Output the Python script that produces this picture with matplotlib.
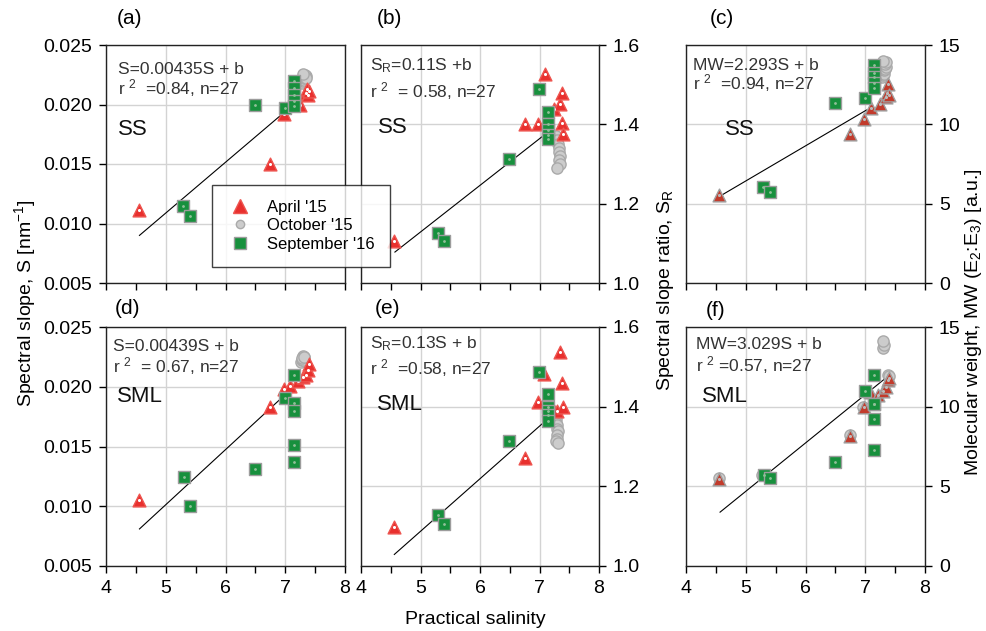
import numpy as np
import matplotlib
matplotlib.use('Agg')
import matplotlib.pyplot as plt
from matplotlib.ticker import MultipleLocator, FormatStrFormatter
from matplotlib.lines import Line2D

plt.rcParams['font.family'] = ['Liberation Sans', 'DejaVu Sans']
plt.rcParams['mathtext.fontset'] = 'custom'
plt.rcParams['mathtext.rm'] = 'Liberation Sans'
plt.rcParams['mathtext.it'] = 'Liberation Sans:italic'
plt.rcParams['mathtext.default'] = 'regular'

# salinity (SS row)
sal_apr_ss = [4.56, 6.75, 6.98, 7.10, 7.24, 7.35, 7.37, 7.38, 7.40]
sal_oct_ss = [7.28, 7.30, 7.31, 7.32, 7.33, 7.34, 7.33, 7.35, 7.30]
sal_sep_ss = [5.29, 5.40, 6.49, 6.99, 7.15, 7.15, 7.15, 7.15, 7.15]
# salinity (SML row)
sal_apr_sml = [4.56, 6.75, 6.98, 7.08, 7.21, 7.30, 7.35, 7.38, 7.39]
sal_oct_sml = [7.27, 7.28, 7.29, 7.30, 7.31, 7.29, 7.30, 7.28, 7.31]
sal_oct_f = [4.56, 5.27, 6.74, 6.97, 7.38, 7.40, 7.29, 7.31, 7.30]
sal_sep_sml = [5.30, 5.40, 6.49, 6.99, 7.15, 7.15, 7.15, 7.15, 7.15]

# (a) spectral slope S, SS
s_apr_a = [0.0111, 0.0150, 0.0192, 0.0202, 0.0200, 0.0210, 0.0213, 0.0208, 0.0211]
s_oct_a = [0.0218, 0.0220, 0.0221, 0.0222, 0.0223, 0.0224, 0.0225, 0.0222, 0.0226]
s_sep_a = [0.0115, 0.0106, 0.0200, 0.0197, 0.0220, 0.0214, 0.0208, 0.0203, 0.0199]
fit_x_a, fit_y_a = [4.56, 7.02], [0.0090, 0.0195]
# (b) slope ratio SR, SS
sr_apr_b = [1.106, 1.400, 1.400, 1.527, 1.438, 1.452, 1.480, 1.403, 1.376]
sr_oct_b = [1.37, 1.36, 1.35, 1.34, 1.33, 1.32, 1.31, 1.30, 1.29]
sr_sep_b = [1.127, 1.105, 1.312, 1.489, 1.431, 1.400, 1.385, 1.374, 1.363]
fit_x_b, fit_y_b = [4.57, 7.07], [1.078, 1.372]
# (c) molecular weight MW, SS
mw_apr_c = [5.54, 9.42, 10.31, 11.04, 11.29, 11.71, 11.98, 12.54, 11.85]
mw_oct_c = [13.0, 13.1, 13.2, 13.4, 13.5, 13.6, 13.8, 13.9, 14.0]
mw_sep_c = [6.03, 5.75, 11.33, 11.63, 13.75, 13.25, 13.0, 12.6, 12.3]
fit_x_c, fit_y_c = [4.58, 7.02], [5.5, 10.9]
# (d) spectral slope S, SML
s_apr_d = [0.0105, 0.0183, 0.0198, 0.0201, 0.0205, 0.0208, 0.0210, 0.0214, 0.0219]
s_oct_d = [0.0221, 0.0222, 0.0223, 0.0224, 0.0225, 0.0226, 0.0222, 0.0224, 0.0225]
s_sep_d = [0.01245, 0.0100, 0.0131, 0.0191, 0.0210, 0.0186, 0.0180, 0.0151, 0.0137]
fit_x_d, fit_y_d = [4.56, 7.25], [0.0081, 0.0205]
# (e) slope ratio SR, SML
sr_apr_e = [1.097, 1.270, 1.411, 1.481, 1.400, 1.390, 1.538, 1.460, 1.400]
sr_oct_e = [1.37, 1.36, 1.355, 1.345, 1.34, 1.33, 1.32, 1.315, 1.31]
sr_sep_e = [1.128, 1.105, 1.315, 1.487, 1.432, 1.400, 1.390, 1.380, 1.365]
fit_x_e, fit_y_e = [4.56, 7.06], [1.029, 1.359]
# (f) molecular weight MW, SML
mw_apr_f = [5.48, 8.19, 9.98, 10.92, 10.71, 11.0, 11.24, 11.66, 11.83]
mw_oct_f = [5.55, 5.72, 8.25, 10.0, 12.0, 11.9, 13.7, 13.9, 14.1]
mw_sep_f = [5.69, 5.53, 6.54, 10.97, 11.97, 10.15, 9.24, 7.31, 10.15]
fit_x_f, fit_y_f = [4.57, 7.38], [3.38, 11.91]

W, H = 986, 631
fig = plt.figure(figsize=(W / 100, H / 100), dpi=100)


def box(x0, y0, x1, y1):
    return [x0 / W, 1 - y1 / H, (x1 - x0) / W, (y1 - y0) / H]


def panel(rect, sa, ya, so, yo, ss, ys, fx, fy, dark):
    ax = fig.add_axes(rect)
    ax.grid(True, color='#d3d3d3', lw=1, zorder=0)
    ax.set_axisbelow(True)
    ax.plot(fx, fy, color='black', lw=0.8, zorder=2)
    ax.scatter(so, yo, marker='o', s=65, facecolor='#cccccc', edgecolor='#aaaaaa', lw=1, zorder=3)
    if dark:
        ax.scatter(sa, ya, marker='^', s=85, facecolor='#c23b2c', edgecolor='#a0a0a0', lw=1, zorder=4)
        ax.scatter(sa, ya, marker='.', s=6, color='#bbbbbb', zorder=5)
    else:
        ax.scatter(sa, ya, marker='^', s=85, facecolor='#e8302e', edgecolor='#ee5550', lw=1, zorder=4)
        ax.scatter(sa, ya, marker='.', s=6, color='white', zorder=5)
    ax.scatter(ss, ys, marker='s', s=75, facecolor='#17903d', edgecolor='#9c9c9c', lw=1, zorder=6)
    ax.scatter(ss, ys, marker='.', s=4, color='#8fbf98', zorder=7)
    ax.set_xlim(4, 8)
    ax.xaxis.set_major_locator(MultipleLocator(1))
    ax.xaxis.set_minor_locator(MultipleLocator(0.5))
    ax.tick_params(which='both', direction='out', length=5, width=1, labelsize=14, pad=5)
    for sp in ax.spines.values():
        sp.set_color('#222222')
        sp.set_linewidth(1)
    return ax


top, bot = (45, 283), (327, 566)
cols = [(106, 345), (361, 599), (686, 925)]

ax_a = panel(box(cols[0][0], top[0], cols[0][1], top[1]), sal_apr_ss, s_apr_a, sal_oct_ss, s_oct_a,
             sal_sep_ss, s_sep_a, fit_x_a, fit_y_a, False)
ax_b = panel(box(cols[1][0], top[0], cols[1][1], top[1]), sal_apr_ss, sr_apr_b, sal_oct_ss, sr_oct_b,
             sal_sep_ss, sr_sep_b, fit_x_b, fit_y_b, False)
ax_c = panel(box(cols[2][0], top[0], cols[2][1], top[1]), sal_apr_ss, mw_apr_c, sal_oct_ss, mw_oct_c,
             sal_sep_ss, mw_sep_c, fit_x_c, fit_y_c, True)
ax_d = panel(box(cols[0][0], bot[0], cols[0][1], bot[1]), sal_apr_sml, s_apr_d, sal_oct_sml, s_oct_d,
             sal_sep_sml, s_sep_d, fit_x_d, fit_y_d, False)
ax_e = panel(box(cols[1][0], bot[0], cols[1][1], bot[1]), sal_apr_sml, sr_apr_e, sal_oct_sml, sr_oct_e,
             sal_sep_sml, sr_sep_e, fit_x_e, fit_y_e, False)
ax_f = panel(box(cols[2][0], bot[0], cols[2][1], bot[1]), sal_apr_sml, mw_apr_f, sal_oct_f, mw_oct_f,
             sal_sep_sml, mw_sep_f, fit_x_f, fit_y_f, True)

for ax in (ax_a, ax_d):
    ax.set_ylim(0.005, 0.025)
    ax.yaxis.set_major_locator(MultipleLocator(0.005))
    ax.yaxis.set_major_formatter(FormatStrFormatter('%.3f'))
for ax in (ax_b, ax_e):
    ax.set_ylim(1.0, 1.6)
    ax.yaxis.set_major_locator(MultipleLocator(0.2))
    ax.yaxis.set_major_formatter(FormatStrFormatter('%.1f'))
    ax.yaxis.tick_right()
for ax in (ax_c, ax_f):
    ax.set_ylim(0, 15)
    ax.yaxis.set_major_locator(MultipleLocator(5))
    ax.yaxis.tick_right()
for ax in (ax_a, ax_b, ax_c):
    ax.tick_params(axis='x', labelbottom=False)

# equations and layer labels
eq_col = '#333333'
notes = [
    (ax_a, 0.05, 0.895, 0.82, 'S=0.00435S + b', 'r $^2$  =0.84, n=27', 0.05, 0.645, 'SS'),
    (ax_b, 0.038, 0.915, 0.805, 'S$_R$=0.11S +b', 'r $^2$  = 0.58, n=27', 0.07, 0.655, 'SS'),
    (ax_c, 0.03, 0.915, 0.84, 'MW=2.293S + b', 'r $^2$  =0.94, n=27', 0.165, 0.645, 'SS'),
    (ax_d, 0.028, 0.918, 0.837, 'S=0.00439S + b', 'r $^2$  = 0.67, n=27', 0.045, 0.71, 'SML'),
    (ax_e, 0.038, 0.93, 0.827, 'S$_R$=0.13S + b', 'r $^2$  =0.58, n=27', 0.066, 0.675, 'SML'),
    (ax_f, 0.042, 0.925, 0.841, 'MW=3.029S + b', 'r $^2$ =0.57, n=27', 0.065, 0.71, 'SML'),
]
for ax, ex, ey1, ey2, l1, l2, lx, ly, lay in notes:
    ax.text(ex, ey1, l1, transform=ax.transAxes, fontsize=12.5, color=eq_col, va='center', zorder=8)
    ax.text(ex, ey2, l2, transform=ax.transAxes, fontsize=12.5, color=eq_col, va='center', zorder=8)
    ax.text(lx, ly, lay, transform=ax.transAxes, fontsize=16, color='#111111', va='center', zorder=8)

# panel letters
letters = [('(a)', 130, 18), ('(b)', 389, 18), ('(c)', 722, 18),
           ('(d)', 128, 308), ('(e)', 388, 308), ('(f)', 716, 310)]
for lab, px, py in letters:
    fig.text(px / W, 1 - py / H, lab, fontsize=15, ha='center', va='center')

# axis labels
fig.text(25 / W, 1 - 303 / H, 'Spectral slope, S [nm$^{-1}$]', rotation=90, fontsize=14,
         ha='center', va='center')
fig.text(665 / W, 1 - 290 / H, 'Spectral slope ratio, S$_R$', rotation=90, fontsize=14,
         ha='center', va='center')
fig.text(973 / W, 1 - 322 / H, 'Molecular weight, MW (E$_2$:E$_3$) [a.u.]', rotation=90,
         fontsize=14, ha='center', va='center')
fig.text(475 / W, 1 - 620 / H, 'Practical salinity', fontsize=14, ha='center', va='center')

# legend
handles = [
    Line2D([], [], ls='none', marker='^', ms=10, mfc='#e8302e', mec='#ee5550'),
    Line2D([], [], ls='none', marker='o', ms=6, mfc='#cccccc', mec='#aaaaaa'),
    Line2D([], [], ls='none', marker='s', ms=8, mfc='#17903d', mec='#9c9c9c'),
]
leg = fig.legend(handles, ["April '15", "October '15", "September '16"], loc='upper left',
                 bbox_to_anchor=(212 / W, 1 - 185 / H), fontsize=12, frameon=True, fancybox=False,
                 borderpad=0.9, handletextpad=0.8, labelspacing=0.2, handlelength=1.6,
                 borderaxespad=0)
leg.get_frame().set_edgecolor('#111111')
leg.get_frame().set_linewidth(1)
leg.set_zorder(20)

fig.savefig('out.png', dpi=100)
